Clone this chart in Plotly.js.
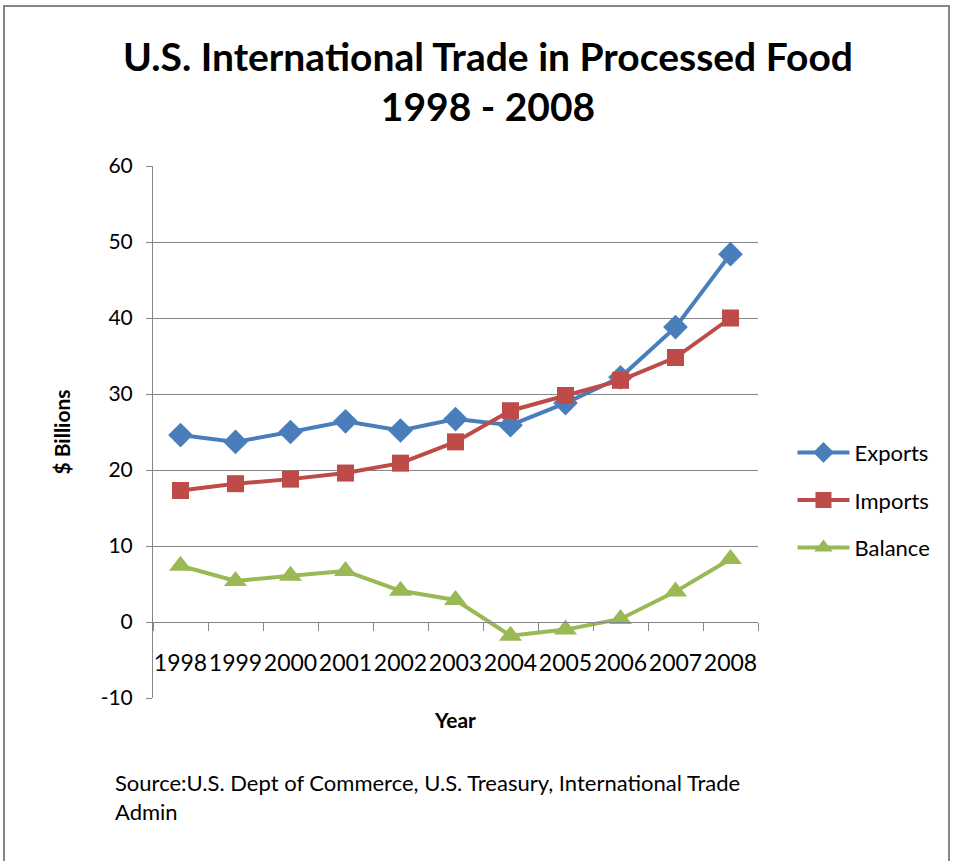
<!DOCTYPE html>
<html>
<head>
<meta charset="utf-8">
<script src="https://cdn.plot.ly/plotly-3.0.1.min.js"></script>
<style>html,body{margin:0;padding:0;background:#fff;}#chart{width:955px;height:861px;}</style>
</head>
<body>
<div id="chart"></div>
<script>
var years = ['1998','1999','2000','2001','2002','2003','2004','2005','2006','2007','2008'];
var exportsVals = [24.6, 23.7, 25.0, 26.4, 25.2, 26.7, 25.9, 28.8, 32.2, 38.8, 48.4];
var importsVals = [17.3, 18.2, 18.8, 19.6, 20.9, 23.7, 27.8, 29.8, 31.8, 34.8, 40.0];
var balanceVals = [7.4, 5.4, 6.1, 6.7, 4.1, 2.9, -1.8, -1.0, 0.4, 4.0, 8.3];
var seriesNames = ['Exports', 'Imports', 'Balance'];
var yTickVals = [-10, 0, 10, 20, 30, 40, 50, 60];
var yTickText = ['-10', '0', '10', '20', '30', '40', '50', '60'];
var titleText = 'U.S. International Trade in Processed Food<br>1998 - 2008';
var sourceText = 'Source:U.S. Dept of Commerce, U.S. Treasury, International Trade<br>Admin';

var FONT = 'Lato, "Open Sans", sans-serif';
var colors = ['#4A7EBB', '#BE4B48', '#98B954'];
var symbols = ['diamond', 'square', 'triangle-up'];
var sizes = [19, 17, 20];
var vals = [exportsVals, importsVals, balanceVals];

var traces = vals.map(function(v, i) {
  return {
    type: 'scatter', mode: 'lines+markers', x: years, y: v, name: seriesNames[i],
    legendgroup: 'g' + i,
    line: {color: colors[i], width: 4},
    marker: {symbol: symbols[i], size: sizes[i], color: colors[i]}
  };
});

var layout = {
  width: 955, height: 861,
  paper_bgcolor: '#fff', plot_bgcolor: '#fff',
  margin: {l: 153, r: 197, t: 166, b: 163},
  font: {family: FONT, color: '#000'},
  title: {
    text: titleText, font: {family: FONT, size: 39, weight: 'bold', color: '#000'},
    xref: 'container', yref: 'container', x: 0.511, y: 0.918, xanchor: 'center', yanchor: 'middle'
  },
  xaxis: {
    type: 'category', anchor: 'free', position: 1/7, range: [-0.5, 10.5],
    showline: true, linecolor: '#868686', linewidth: 1,
    ticks: 'outside', tickson: 'boundaries', ticklen: 8, tickcolor: '#868686',
    showgrid: false, zeroline: false, tickangle: 0,
    tickfont: {family: FONT, size: 23, color: '#000'}, ticklabelstandoff: 20,
    title: {text: 'Year', font: {family: FONT, size: 21, weight: 'bold', color: '#000'}, standoff: 38}
  },
  yaxis: {
    range: [-10, 60], tickmode: 'array', tickvals: yTickVals, ticktext: yTickText,
    showline: true, linecolor: '#868686', linewidth: 1,
    ticks: 'outside', ticklen: 6, tickcolor: '#868686', ticklabelstandoff: 9,
    showgrid: true, gridcolor: '#868686', gridwidth: 1, zeroline: false,
    tickfont: {family: FONT, size: 21, color: '#000'},
    title: {text: '$ Billions', font: {family: FONT, size: 21, weight: 'bold', color: '#000'}, standoff: 24}
  },
  legend: {
    x: 1.057, xanchor: 'left', y: 0.372, yanchor: 'middle',
    font: {family: FONT, size: 22, color: '#000'},
    traceorder: 'grouped', tracegroupgap: 16, itemwidth: 52,
    bgcolor: 'rgba(0,0,0,0)'
  },
  annotations: [{
    text: sourceText, xref: 'paper', yref: 'paper', x: (113 - 153) / 605, y: (698 - 767) / 532,
    xanchor: 'left', yanchor: 'top', align: 'left', showarrow: false,
    font: {family: FONT, size: 22, color: '#000'}
  }],
  shapes: [{
    type: 'rect', xref: 'paper', yref: 'paper',
    x0: (4 - 153) / 605, x1: (949 - 153) / 605, y0: (698 - 870) / 532, y1: (698 - 6) / 532,
    line: {color: '#868686', width: 2}, fillcolor: 'rgba(0,0,0,0)', layer: 'below'
  }]
};

Plotly.newPlot('chart', traces, layout, {displayModeBar: false, staticPlot: true});
</script>
</body>
</html>
